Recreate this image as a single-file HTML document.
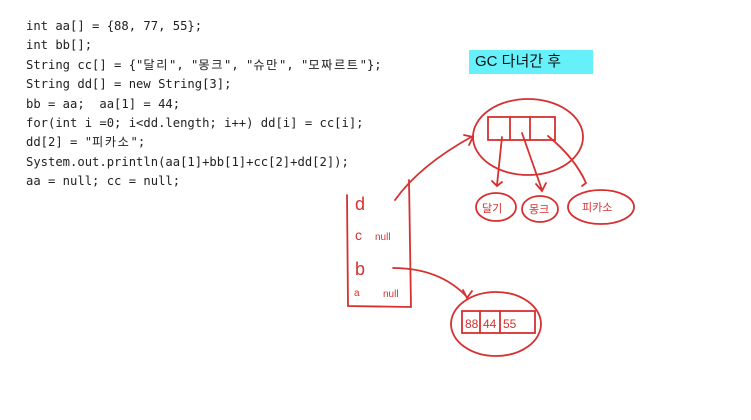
<!DOCTYPE html>
<html><head><meta charset="utf-8"><style>
html,body{margin:0;padding:0;background:#fff;width:751px;height:420px;overflow:hidden;position:relative}
pre{position:absolute;left:26px;top:17px;margin:0;font-family:"DejaVu Sans Mono","Noto Sans CJK KR",monospace;font-size:12.2px;line-height:19.4px;color:#222}
pre span{letter-spacing:1.6px}
.gc{position:absolute;left:469px;top:50px;width:124px;height:24px;background:#66f0fa;font-family:"Liberation Sans","Noto Sans CJK KR",sans-serif;font-size:15px;line-height:24px;padding-left:6px;box-sizing:border-box;color:#111}
svg{position:absolute;left:0;top:0}
</style></head><body>
<pre>int aa[] = {88, 77, 55};
int bb[];
String cc[] = {"<span>달리</span>", "<span>몽크</span>", "<span>슈만</span>", "<span>모짜르트</span>"};
String dd[] = new String[3];
bb = aa;  aa[1] = 44;
for(int i =0; i&lt;dd.length; i++) dd[i] = cc[i];
dd[2] = "<span>피카소</span>";
System.out.println(aa[1]+bb[1]+cc[2]+dd[2]);
aa = null; cc = null;</pre>
<div class="gc">GC 다녀간 후</div>
<svg width="751" height="420" fill="none" stroke="#d63030" stroke-width="1.8" stroke-linecap="round">
<ellipse cx="528" cy="137" rx="55" ry="38"/>
<rect x="488" y="117" width="67" height="23"/>
<line x1="510" y1="117" x2="510" y2="140"/><line x1="530" y1="117" x2="530" y2="140"/>
<path d="M502 137 L497 185 M492 181 L497 186 L502 182"/>
<path d="M522 133 L542 190 M536 184 L542 191 L546 183"/>
<path d="M548 136 Q575 158 586 183 M582 186 L586 183"/>
<ellipse cx="496" cy="207" rx="20" ry="14"/>
<ellipse cx="540" cy="209" rx="18" ry="13"/>
<ellipse cx="601" cy="207" rx="33" ry="17"/>
<path d="M347 195 L348 306 L411 307 L409 180"/>
<path d="M395 200 Q420 165 473 136 M464 135 L473 137 L469 145"/>
<path d="M393 268 Q440 268 467 297 M463 290 L467 298 L472 291"/>
<ellipse cx="496" cy="324" rx="45" ry="32"/>
<rect x="462" y="311" width="73" height="22"/>
<line x1="480" y1="311" x2="480" y2="333"/><line x1="500" y1="311" x2="500" y2="333"/>
</svg>
<svg width="751" height="420" style="font-family:'Liberation Sans','Noto Sans CJK KR',sans-serif" fill="#d63030">
<text x="355" y="210" font-size="18">d</text>
<text x="355" y="240" font-size="14">c</text>
<text x="375" y="240" font-size="10">null</text>
<text x="355" y="275" font-size="18">b</text>
<text x="354" y="296" font-size="10">a</text>
<text x="383" y="297" font-size="10">null</text>
<text x="482" y="212" font-size="11">달기</text>
<text x="529" y="213" font-size="11">몽크</text>
<text x="582" y="211" font-size="11">피카소</text>
<text x="465" y="328" font-size="12">88</text>
<text x="483" y="328" font-size="12">44</text>
<text x="503" y="328" font-size="12">55</text>
</svg>
</body></html>
